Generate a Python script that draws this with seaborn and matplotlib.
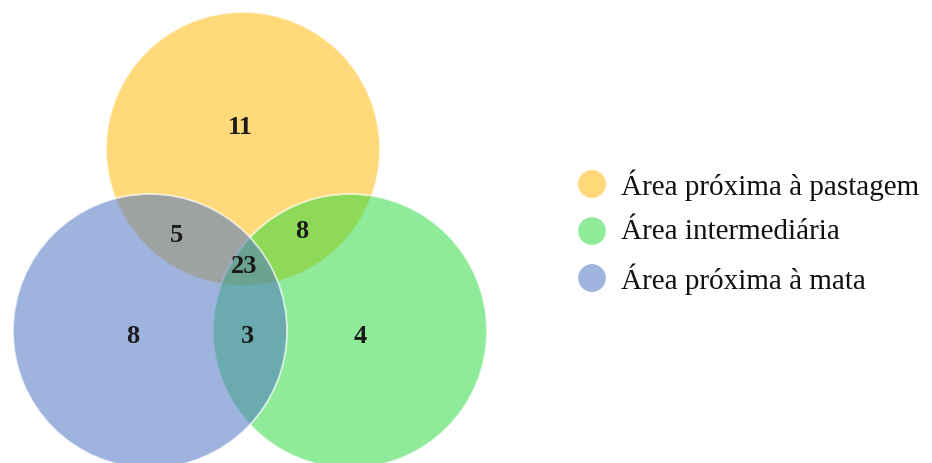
import pandas as pd
import numpy as np
import matplotlib.pyplot as plt
import seaborn as sns
from matplotlib.patches import Circle

# Venn data: one set per area, counts per region
sets = ['Área próxima à pastagem', 'Área intermediária', 'Área próxima à mata']
set_colors = ['#FFD97A', '#21D937', '#4F77C3']
legend_colors = ['#FFD97A', '#90EC9B', '#9EB4DE']
set_alpha = [1.0, 0.5, 0.55]

# region label -> count (P = pastagem, I = intermediaria, M = mata)
regions = ['P', 'PM', 'PI', 'PIM', 'M', 'IM', 'I']
counts = [11, 5, 8, 23, 8, 3, 4]

# layout in pixels (figure drawn 1:1)
centers = {'P': (243, 150), 'I': (350, 332), 'M': (150, 332)}
radius = 137
label_pos = {'P': (240, 127), 'PM': (176, 236), 'PI': (302, 232), 'PIM': (244, 267),
             'M': (133, 337), 'IM': (247, 337), 'I': (360, 337)}

sns.set_theme(style='white')
plt.rcParams['font.family'] = ['Liberation Serif', 'DejaVu Serif']

fig = plt.figure(figsize=(9.32, 4.64), dpi=100)
ax = fig.add_axes([0, 0, 1, 1])
ax.set_xlim(0, 932)
ax.set_ylim(464, 0)
ax.set_aspect('equal')
ax.axis('off')

# draw order: pastagem, intermediaria, mata (mata on top)
keys = ['P', 'I', 'M']
for k, col, a, z in zip(keys, set_colors, set_alpha, [1, 2, 3]):
    ax.add_patch(Circle(centers[k], radius, facecolor=col, alpha=a,
                        edgecolor='none', zorder=z))
    ax.add_patch(Circle(centers[k], radius, facecolor='none',
                        edgecolor=(1, 1, 1, 0.7), linewidth=1.3, zorder=z))

for r, c in zip(regions, counts):
    x, y = label_pos[r]
    ax.text(x, y, str(c), ha='center', va='center', fontsize=19,
            fontweight='bold', color='#1a1a1a', zorder=10)

# legend
leg = pd.DataFrame({'label': sets, 'x': [592] * 3, 'y': [185, 232, 279]})
sns.scatterplot(data=leg, x='x', y='y', hue='label', palette=legend_colors,
                s=400, edgecolor='none', legend=False, ax=ax, zorder=5)
for _, row in leg.iterrows():
    ax.text(row['x'] + 29, row['y'], row['label'], ha='left', va='center',
            fontsize=21, color='#111111')

ax.set_xlabel('')
ax.set_ylabel('')
fig.savefig('out.png', dpi=100)
